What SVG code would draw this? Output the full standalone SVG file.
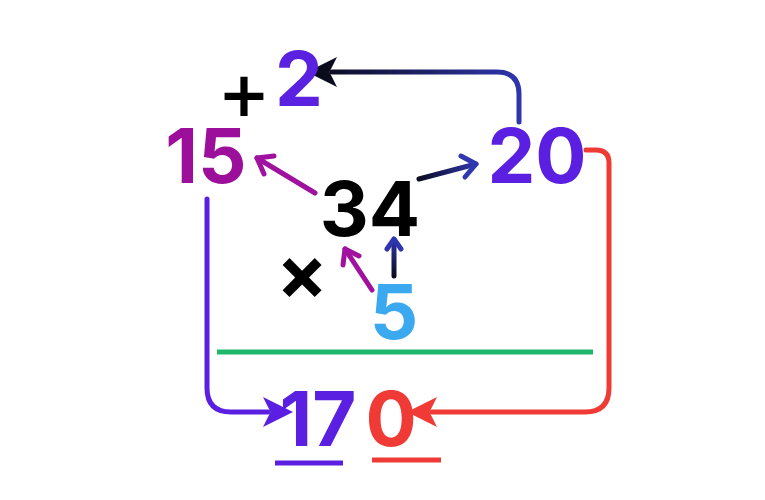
<svg xmlns="http://www.w3.org/2000/svg" width="765" height="500" viewBox="0 0 765 500">
<defs>
<style>
.n{font-family:Inter,"Noto Sans",sans-serif;font-weight:700;font-size:76px;text-anchor:middle}
.c{fill:none;stroke-width:5;stroke-linecap:round;stroke-linejoin:round}
</style>
<linearGradient id="gTop" gradientUnits="userSpaceOnUse" x1="320" y1="0" x2="520" y2="0"><stop offset="0" stop-color="#0b0b1e"/><stop offset="1" stop-color="#2f36ad"/></linearGradient>
<linearGradient id="gR" gradientUnits="userSpaceOnUse" x1="418" y1="0" x2="478" y2="0"><stop offset="0" stop-color="#0b0b1e"/><stop offset="1" stop-color="#3038b0"/></linearGradient>
<linearGradient id="gUp" gradientUnits="userSpaceOnUse" x1="0" y1="277" x2="0" y2="237"><stop offset="0" stop-color="#0b0b1e"/><stop offset="1" stop-color="#3038b0"/></linearGradient>
<marker id="fTop" markerWidth="6" markerHeight="6" refX="1" refY="3" orient="auto" markerUnits="strokeWidth"><path d="M0,0 L6,3 L0,6 L1.5,3 Z" fill="#0b0b1e"/></marker>
<marker id="fP" markerWidth="6" markerHeight="6" refX="1" refY="3" orient="auto" markerUnits="strokeWidth"><path d="M0,0 L6,3 L0,6 L1.5,3 Z" fill="#5a1fe0"/></marker>
<marker id="fR" markerWidth="6" markerHeight="6" refX="1" refY="3" orient="auto" markerUnits="strokeWidth"><path d="M0,0 L6,3 L0,6 L1.5,3 Z" fill="#ef3a35"/></marker>
</defs>
<g id="connectors">
<path class="c" d="M519,122 V94 Q519,72 497,72 H332" stroke="url(#gTop)" marker-end="url(#fTop)"/>
<path class="c" d="M586,150 H596 Q609,150 609,163 V388 Q609,412 585,412 H432" stroke="#ef3a35" marker-end="url(#fR)"/>
<path class="c" d="M207,199 V388 Q207,412 231,412 H268" stroke="#5a1fe0" marker-end="url(#fP)"/>
<g stroke="#a0119f" class="c">
<path d="M315,193 L257,158"/><path d="M264,174 L257,158 L274,156"/>
<path d="M372,290 L345,249"/><path d="M343,265 L345,249 L359,256"/>
</g>
<g class="c" stroke="url(#gR)">
<path d="M419,179 L476,164"/>
</g>
<path class="c" d="M461,156 L476,164 L465,177" stroke="#3038b0"/>
<path class="c" d="M394,276 L394,240" stroke="url(#gUp)"/>
<path class="c" d="M387,249 L394,239 L401,249" stroke="#2f36ad"/>
<path d="M217,352 H593" stroke="#1fb56a" stroke-width="5"/>
<path d="M275,463 H343" stroke="#5a1fe0" stroke-width="5"/>
<path d="M372,460 H441" stroke="#ef3a35" stroke-width="5"/>
</g>
<g id="plus"><text x="244" y="116" font-family="'DejaVu Sans',sans-serif" font-weight="700" font-size="62" text-anchor="middle" fill="#000">+</text></g>
<g id="n2"><text class="n" x="299" y="106" fill="#5a22e0">2</text></g>
<g id="n15"><text class="n" x="206" y="183" fill="#9b0f9b">15</text></g>
<g id="n20"><text class="n" x="537" y="183" fill="#5a1fe0">20</text></g>
<g id="n34"><text class="n" x="370" y="236" fill="#000">34</text></g>
<g id="times"><text class="n" x="302" y="300" font-size="60" fill="#000">×</text></g>
<g id="n5"><text class="n" x="394" y="339" fill="#3aa9ef">5</text></g>
<g id="n17"><text class="n" x="318" y="446" fill="#5a1fe0">17</text></g>
<g id="n0"><text class="n" x="391" y="446" fill="#ef3a35">0</text></g>
</svg>
